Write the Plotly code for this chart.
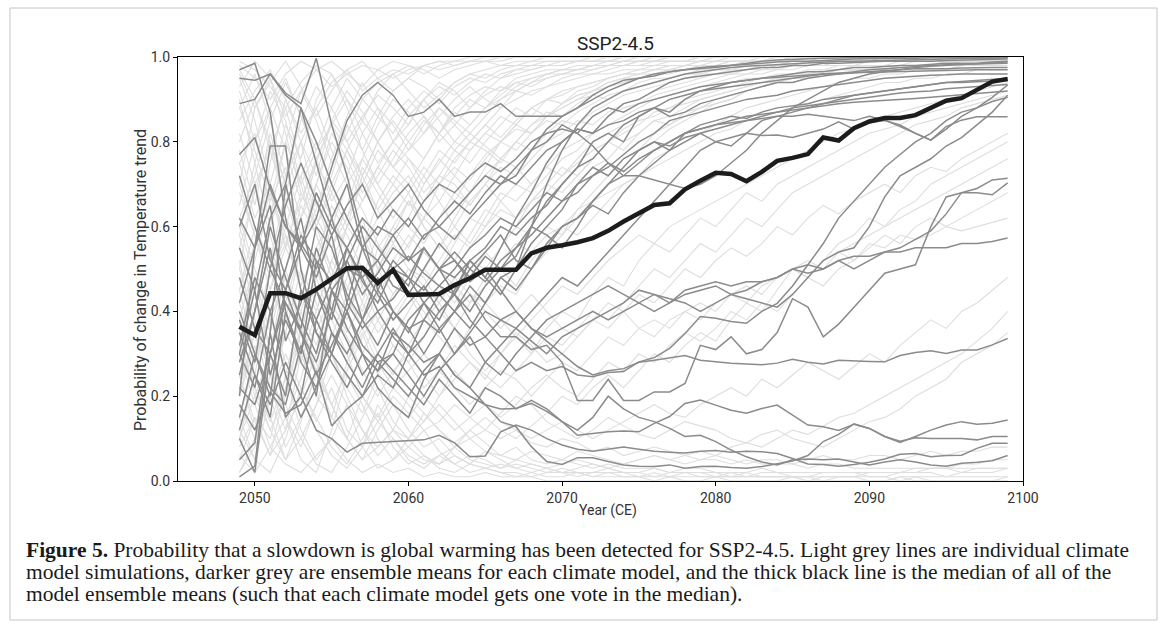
import plotly.graph_objects as go

years = list(range(2049, 2100))

median_of_means = [
    0.364, 0.344, 0.443, 0.443, 0.431, 0.452, 0.477, 0.502, 0.503, 0.467,
    0.498, 0.439, 0.440, 0.441, 0.462, 0.478, 0.498, 0.498, 0.498, 0.537,
    0.550, 0.556, 0.563, 0.573, 0.590, 0.612, 0.632, 0.651, 0.655, 0.688,
    0.708, 0.727, 0.724, 0.707, 0.729, 0.755, 0.762, 0.771, 0.810, 0.803,
    0.832, 0.848, 0.856, 0.856, 0.863, 0.879, 0.897, 0.903, 0.922, 0.942, 0.948]

# ---- ensemble means (darker grey) ----
em01 = [0.62,0.55,0.70,0.60,0.55,0.62,0.74,0.85,0.91,0.94,
        0.91,0.86,0.87,0.90,0.86,0.87,0.87,0.89,0.86,0.86,
        0.86,0.86,0.88,0.91,0.93,0.945,0.95,0.955,0.965,0.97,
        0.973,0.975,0.98,0.985,0.99,0.993,0.995,0.996,0.997,0.998,
        0.998,0.999,0.999,1.0,1.0,1.0,1.0,1.0,1.0,1.0,1.0]
em02 = [0.97,0.985,0.87,0.62,0.45,0.38,0.47,0.52,0.44,0.49,
        0.55,0.52,0.58,0.60,0.57,0.62,0.66,0.70,0.72,0.78,
        0.83,0.86,0.88,0.90,0.92,0.935,0.95,0.96,0.965,0.97,
        0.975,0.978,0.98,0.983,0.985,0.988,0.99,0.99,0.992,0.994,
        0.995,0.996,0.996,0.997,0.997,0.998,0.998,0.998,0.998,0.998,0.998]
em03 = [0.95,0.945,0.96,0.915,0.89,0.997,0.84,0.72,0.58,0.45,
        0.40,0.35,0.42,0.38,0.45,0.52,0.48,0.55,0.62,0.68,
        0.75,0.80,0.83,0.82,0.86,0.89,0.90,0.92,0.94,0.95,
        0.955,0.96,0.965,0.97,0.975,0.975,0.98,0.98,0.985,0.985,
        0.987,0.988,0.99,0.99,0.99,0.99,0.992,0.993,0.993,0.994,0.995]
em04 = [0.89,0.90,0.96,0.91,0.88,0.80,0.70,0.62,0.55,0.46,
        0.50,0.46,0.55,0.50,0.44,0.40,0.46,0.50,0.53,0.60,
        0.66,0.70,0.74,0.80,0.82,0.80,0.86,0.88,0.87,0.90,
        0.92,0.93,0.94,0.945,0.95,0.955,0.96,0.965,0.965,0.97,
        0.975,0.975,0.978,0.98,0.98,0.982,0.985,0.985,0.985,0.988,0.99]
em05 = [0.77,0.81,0.69,0.60,0.56,0.50,0.62,0.70,0.55,0.52,
        0.58,0.62,0.57,0.62,0.66,0.63,0.68,0.72,0.70,0.74,
        0.78,0.80,0.83,0.82,0.84,0.85,0.87,0.88,0.86,0.87,
        0.89,0.90,0.91,0.92,0.93,0.94,0.94,0.95,0.955,0.96,
        0.965,0.97,0.972,0.975,0.978,0.98,0.982,0.983,0.984,0.985,0.985]
em06 = [0.20,0.55,0.79,0.79,0.50,0.35,0.30,0.42,0.55,0.60,
        0.58,0.52,0.55,0.50,0.48,0.52,0.55,0.60,0.58,0.62,
        0.65,0.70,0.74,0.76,0.80,0.84,0.86,0.88,0.90,0.91,
        0.92,0.925,0.93,0.935,0.94,0.945,0.95,0.955,0.96,0.96,
        0.962,0.965,0.968,0.97,0.972,0.972,0.972,0.974,0.975,0.975,0.975]
em07 = [0.01,0.035,0.35,0.70,0.88,0.75,0.62,0.50,0.48,0.40,
        0.43,0.48,0.45,0.50,0.54,0.50,0.47,0.52,0.55,0.58,
        0.62,0.66,0.68,0.72,0.74,0.77,0.80,0.82,0.85,0.86,
        0.87,0.88,0.89,0.90,0.905,0.91,0.92,0.925,0.93,0.935,
        0.94,0.945,0.95,0.952,0.955,0.957,0.958,0.96,0.96,0.96,0.96]
em08 = [0.48,0.36,0.30,0.45,0.58,0.52,0.47,0.55,0.48,0.52,
        0.46,0.44,0.50,0.56,0.52,0.48,0.53,0.50,0.55,0.60,
        0.58,0.55,0.60,0.66,0.70,0.74,0.78,0.80,0.78,0.82,
        0.84,0.85,0.86,0.855,0.87,0.88,0.885,0.89,0.90,0.905,
        0.91,0.915,0.92,0.925,0.93,0.935,0.94,0.94,0.942,0.944,0.945]
em09 = [0.42,0.55,0.65,0.40,0.30,0.45,0.38,0.52,0.60,0.55,
        0.50,0.53,0.49,0.46,0.44,0.50,0.54,0.58,0.52,0.50,
        0.55,0.60,0.62,0.65,0.63,0.68,0.72,0.75,0.78,0.80,
        0.82,0.83,0.84,0.85,0.86,0.87,0.88,0.885,0.89,0.895,
        0.90,0.905,0.91,0.915,0.918,0.92,0.925,0.928,0.93,0.933,0.935]
em10 = [0.25,0.40,0.55,0.33,0.42,0.60,0.55,0.44,0.38,0.48,
        0.40,0.36,0.38,0.44,0.40,0.36,0.42,0.48,0.45,0.50,
        0.56,0.60,0.62,0.66,0.70,0.72,0.75,0.78,0.80,0.82,
        0.83,0.84,0.85,0.86,0.865,0.87,0.875,0.88,0.885,0.89,
        0.893,0.895,0.898,0.90,0.902,0.905,0.908,0.91,0.913,0.917,0.92]
em11 = [0.38,0.28,0.50,0.42,0.36,0.55,0.45,0.40,0.50,0.44,
        0.38,0.42,0.46,0.40,0.44,0.52,0.48,0.44,0.50,0.56,
        0.60,0.64,0.70,0.74,0.72,0.76,0.78,0.80,0.79,0.81,
        0.82,0.80,0.81,0.82,0.815,0.816,0.81,0.82,0.83,0.847,
        0.83,0.845,0.85,0.84,0.82,0.804,0.83,0.86,0.88,0.905,0.934]
em12 = [0.30,0.22,0.40,0.50,0.62,0.45,0.35,0.30,0.38,0.45,
        0.52,0.48,0.42,0.46,0.50,0.55,0.58,0.62,0.60,0.64,
        0.68,0.66,0.70,0.72,0.75,0.73,0.76,0.78,0.80,0.82,
        0.83,0.84,0.845,0.85,0.855,0.86,0.86,0.865,0.86,0.855,
        0.85,0.86,0.851,0.836,0.82,0.804,0.836,0.851,0.859,0.859,0.859]
em13 = [0.15,0.30,0.20,0.45,0.35,0.28,0.40,0.33,0.25,0.30,
        0.36,0.30,0.34,0.40,0.44,0.38,0.34,0.38,0.40,0.36,
        0.34,0.36,0.38,0.40,0.38,0.40,0.42,0.44,0.43,0.42,
        0.40,0.42,0.44,0.43,0.42,0.41,0.44,0.48,0.52,0.54,
        0.55,0.60,0.67,0.72,0.74,0.76,0.79,0.81,0.84,0.87,0.91]
em14 = [0.28,0.40,0.60,0.48,0.38,0.30,0.45,0.50,0.38,0.32,
        0.40,0.36,0.30,0.36,0.40,0.44,0.38,0.34,0.34,0.31,
        0.32,0.28,0.19,0.19,0.24,0.19,0.19,0.21,0.21,0.23,
        0.32,0.31,0.34,0.30,0.31,0.35,0.43,0.41,0.34,0.37,
        0.41,0.45,0.49,0.50,0.51,0.60,0.67,0.68,0.69,0.71,0.714]
em15 = [0.22,0.18,0.30,0.42,0.35,0.25,0.32,0.40,0.30,0.26,
        0.30,0.25,0.20,0.26,0.30,0.34,0.28,0.25,0.30,0.34,
        0.38,0.40,0.42,0.44,0.46,0.44,0.42,0.40,0.42,0.44,
        0.45,0.46,0.44,0.45,0.47,0.48,0.50,0.49,0.50,0.52,
        0.50,0.52,0.54,0.55,0.57,0.59,0.63,0.68,0.68,0.675,0.703]
em16 = [0.35,0.25,0.18,0.28,0.20,0.38,0.30,0.25,0.20,0.28,
        0.24,0.20,0.26,0.30,0.25,0.22,0.28,0.32,0.36,0.33,
        0.30,0.34,0.36,0.38,0.40,0.42,0.45,0.44,0.42,0.45,
        0.46,0.47,0.46,0.47,0.47,0.48,0.50,0.51,0.50,0.52,
        0.53,0.53,0.54,0.54,0.55,0.55,0.55,0.56,0.56,0.565,0.573]
em17 = [0.30,0.45,0.25,0.38,0.30,0.52,0.40,0.55,0.47,0.42,
        0.50,0.48,0.55,0.50,0.52,0.47,0.50,0.45,0.40,0.36,
        0.33,0.30,0.27,0.25,0.26,0.265,0.28,0.285,0.29,0.296,
        0.285,0.281,0.278,0.276,0.274,0.278,0.287,0.28,0.276,0.285,
        0.283,0.282,0.281,0.296,0.303,0.307,0.301,0.309,0.309,0.321,0.336]
em18 = [0.18,0.12,0.21,0.16,0.18,0.26,0.13,0.17,0.20,0.25,
        0.22,0.30,0.25,0.27,0.22,0.20,0.18,0.17,0.171,0.183,
        0.164,0.14,0.108,0.112,0.116,0.118,0.116,0.136,0.152,0.183,
        0.191,0.179,0.167,0.16,0.171,0.179,0.155,0.132,0.128,0.119,
        0.134,0.124,0.105,0.091,0.105,0.12,0.132,0.14,0.134,0.136,0.144]
em19 = [0.10,0.02,0.30,0.20,0.45,0.35,0.28,0.22,0.30,0.26,
        0.35,0.32,0.28,0.30,0.25,0.22,0.18,0.14,0.128,0.081,
        0.046,0.039,0.055,0.055,0.046,0.038,0.035,0.034,0.038,0.03,
        0.034,0.035,0.032,0.03,0.034,0.04,0.047,0.06,0.093,0.11,
        0.135,0.124,0.105,0.094,0.102,0.10,0.10,0.10,0.097,0.105,0.105]
em20 = [0.05,0.09,0.35,0.15,0.20,0.12,0.10,0.068,0.089,0.091,
        0.093,0.095,0.097,0.108,0.09,0.057,0.059,0.116,0.132,0.12,
        0.10,0.085,0.075,0.07,0.075,0.08,0.075,0.07,0.068,0.066,
        0.07,0.072,0.068,0.07,0.069,0.065,0.053,0.04,0.039,0.035,
        0.039,0.044,0.052,0.063,0.065,0.057,0.06,0.061,0.077,0.089,0.089]
em21 = [0.12,0.25,0.15,0.40,0.28,0.22,0.35,0.28,0.22,0.30,
        0.26,0.22,0.18,0.24,0.20,0.16,0.22,0.20,0.17,0.19,
        0.17,0.14,0.12,0.15,0.20,0.17,0.15,0.14,0.124,0.105,
        0.108,0.093,0.073,0.057,0.045,0.038,0.05,0.052,0.05,0.052,
        0.045,0.038,0.045,0.05,0.045,0.038,0.035,0.042,0.044,0.048,0.06]
em22 = [0.40,0.30,0.22,0.18,0.32,0.20,0.45,0.36,0.30,0.22,
        0.18,0.15,0.24,0.30,0.36,0.32,0.34,0.30,0.26,0.28,
        0.26,0.27,0.25,0.246,0.256,0.258,0.281,0.291,0.313,0.348,
        0.388,0.384,0.376,0.372,0.40,0.419,0.46,0.51,0.56,0.62,
        0.66,0.70,0.74,0.77,0.80,0.82,0.85,0.87,0.88,0.895,0.905]
em23 = [0.55,0.45,0.62,0.70,0.55,0.48,0.58,0.42,0.36,0.40,
        0.34,0.30,0.38,0.35,0.40,0.46,0.42,0.48,0.50,0.60,
        0.70,0.78,0.84,0.88,0.90,0.92,0.93,0.94,0.95,0.96,
        0.965,0.97,0.975,0.978,0.98,0.982,0.985,0.987,0.988,0.99,
        0.99,0.991,0.992,0.993,0.994,0.995,0.996,0.996,0.997,0.997,0.998]
em24 = [0.32,0.48,0.40,0.25,0.15,0.22,0.30,0.40,0.32,0.28,
        0.30,0.38,0.42,0.36,0.30,0.35,0.40,0.38,0.36,0.40,
        0.44,0.48,0.46,0.50,0.54,0.58,0.62,0.66,0.70,0.74,
        0.78,0.80,0.79,0.82,0.85,0.86,0.87,0.88,0.89,0.90,
        0.91,0.915,0.92,0.925,0.93,0.935,0.94,0.942,0.945,0.948,0.95]
em25 = [0.72,0.60,0.50,0.65,0.75,0.66,0.58,0.65,0.70,0.62,
        0.66,0.70,0.64,0.60,0.64,0.68,0.72,0.70,0.74,0.78,
        0.80,0.84,0.82,0.86,0.88,0.87,0.89,0.90,0.91,0.92,
        0.93,0.935,0.94,0.945,0.95,0.952,0.955,0.958,0.96,0.962,
        0.963,0.964,0.965,0.966,0.967,0.968,0.969,0.97,0.97,0.97,0.97]
em26 = [0.60,0.70,0.52,0.45,0.55,0.68,0.60,0.55,0.62,0.58,
        0.64,0.60,0.66,0.70,0.68,0.72,0.75,0.73,0.76,0.80,
        0.82,0.83,0.82,0.79,0.75,0.72,0.72,0.71,0.70,0.69,
        0.70,0.72,0.75,0.78,0.82,0.85,0.88,0.90,0.92,0.94,
        0.95,0.96,0.965,0.97,0.975,0.978,0.98,0.982,0.984,0.986,0.988]

# ---- individual simulations (light grey) ----
sim01 = [0.98,0.95,0.90,0.96,0.99,0.97,0.93,0.96,0.98,0.97,
         0.95,0.97,0.98,0.99,0.98,0.99,0.99,1.0,1.0,1.0,
         1.0,1.0,1.0,1.0,1.0,1.0,1.0,1.0,1.0,1.0,
         1.0,1.0,1.0,1.0,1.0,1.0,1.0,1.0,1.0,1.0,
         1.0,1.0,1.0,1.0,1.0,1.0,1.0,1.0,1.0,1.0,1.0]
sim02 = [0.85,0.92,0.97,0.90,0.82,0.88,0.94,0.97,0.92,0.95,
         0.97,0.96,0.98,0.97,0.98,0.99,0.99,0.99,1.0,1.0,
         1.0,1.0,1.0,1.0,1.0,1.0,1.0,1.0,1.0,1.0,
         1.0,1.0,1.0,1.0,1.0,1.0,1.0,1.0,1.0,1.0,
         1.0,1.0,1.0,1.0,1.0,1.0,1.0,1.0,1.0,1.0,1.0]
sim03 = [0.65,0.80,0.92,0.85,0.70,0.78,0.88,0.95,0.90,0.86,
         0.92,0.95,0.93,0.90,0.94,0.96,0.97,0.98,0.98,0.99,
         0.99,0.99,0.99,1.0,1.0,1.0,1.0,1.0,1.0,1.0,
         1.0,1.0,1.0,1.0,1.0,1.0,1.0,1.0,1.0,1.0,
         1.0,1.0,1.0,1.0,1.0,1.0,1.0,1.0,1.0,1.0,1.0]
sim04 = [0.55,0.40,0.62,0.80,0.92,0.85,0.75,0.82,0.90,0.94,
         0.96,0.92,0.88,0.91,0.94,0.96,0.95,0.97,0.98,0.98,
         0.99,0.99,0.99,0.99,1.0,1.0,1.0,1.0,1.0,1.0,
         1.0,1.0,1.0,1.0,1.0,1.0,1.0,1.0,1.0,1.0,
         1.0,1.0,1.0,1.0,1.0,1.0,1.0,1.0,1.0,1.0,1.0]
sim05 = [0.90,0.75,0.60,0.72,0.85,0.93,0.88,0.80,0.86,0.91,
         0.88,0.84,0.90,0.93,0.91,0.94,0.96,0.95,0.97,0.98,
         0.98,0.99,0.99,0.99,0.99,1.0,1.0,1.0,1.0,1.0,
         1.0,1.0,1.0,1.0,1.0,1.0,1.0,1.0,1.0,1.0,
         1.0,1.0,1.0,1.0,1.0,1.0,1.0,1.0,1.0,1.0,1.0]
sim06 = [0.30,0.55,0.75,0.90,0.80,0.65,0.72,0.84,0.78,0.70,
         0.76,0.82,0.86,0.80,0.84,0.88,0.91,0.93,0.92,0.94,
         0.95,0.96,0.97,0.97,0.98,0.98,0.99,0.99,0.99,0.99,
         1.0,1.0,1.0,1.0,1.0,1.0,1.0,1.0,1.0,1.0,
         1.0,1.0,1.0,1.0,1.0,1.0,1.0,1.0,1.0,1.0,1.0]
sim07 = [0.70,0.88,0.95,0.82,0.68,0.60,0.70,0.78,0.72,0.80,
         0.85,0.80,0.76,0.82,0.87,0.84,0.88,0.90,0.92,0.91,
         0.93,0.94,0.95,0.96,0.96,0.97,0.97,0.98,0.98,0.98,
         0.99,0.99,0.99,0.99,0.99,1.0,1.0,1.0,1.0,1.0,
         1.0,1.0,1.0,1.0,1.0,1.0,1.0,1.0,1.0,1.0,1.0]
sim08 = [0.45,0.60,0.52,0.68,0.80,0.72,0.85,0.92,0.87,0.80,
         0.74,0.78,0.84,0.88,0.85,0.82,0.86,0.90,0.93,0.95,
         0.96,0.96,0.97,0.98,0.98,0.99,0.99,0.99,1.0,1.0,
         1.0,1.0,1.0,1.0,1.0,1.0,1.0,1.0,1.0,1.0,
         1.0,1.0,1.0,1.0,1.0,1.0,1.0,1.0,1.0,1.0,1.0]
sim09 = [0.95,0.85,0.70,0.55,0.62,0.75,0.68,0.60,0.66,0.74,
         0.80,0.76,0.70,0.75,0.80,0.78,0.82,0.86,0.84,0.88,
         0.90,0.92,0.93,0.94,0.95,0.96,0.96,0.97,0.97,0.98,
         0.98,0.98,0.99,0.99,0.99,0.99,1.0,1.0,1.0,1.0,
         1.0,1.0,1.0,1.0,1.0,1.0,1.0,1.0,1.0,1.0,1.0]
sim10 = [0.20,0.35,0.50,0.62,0.55,0.70,0.82,0.76,0.68,0.74,
         0.70,0.65,0.72,0.78,0.75,0.80,0.84,0.81,0.85,0.88,
         0.86,0.89,0.91,0.92,0.94,0.95,0.95,0.96,0.97,0.97,
         0.98,0.98,0.98,0.99,0.99,0.99,0.99,0.99,1.0,1.0,
         1.0,1.0,1.0,1.0,1.0,1.0,1.0,1.0,1.0,1.0,1.0]
sim11 = [0.78,0.65,0.82,0.70,0.58,0.66,0.55,0.62,0.74,0.68,
         0.62,0.68,0.74,0.70,0.66,0.72,0.77,0.80,0.78,0.82,
         0.85,0.84,0.87,0.89,0.91,0.92,0.93,0.94,0.95,0.96,
         0.96,0.97,0.97,0.98,0.98,0.98,0.99,0.99,0.99,0.99,
         0.99,1.0,1.0,1.0,1.0,1.0,1.0,1.0,1.0,1.0,1.0]
sim12 = [0.60,0.48,0.35,0.50,0.65,0.58,0.50,0.45,0.55,0.62,
         0.68,0.72,0.66,0.70,0.76,0.80,0.78,0.75,0.80,0.84,
         0.87,0.86,0.89,0.91,0.90,0.92,0.94,0.95,0.95,0.96,
         0.97,0.97,0.97,0.98,0.98,0.98,0.99,0.99,0.99,0.99,
         0.99,0.99,1.0,1.0,1.0,1.0,1.0,1.0,1.0,1.0,1.0]
sim13 = [0.10,0.25,0.45,0.38,0.55,0.70,0.62,0.55,0.48,0.58,
         0.64,0.60,0.56,0.62,0.68,0.65,0.70,0.74,0.72,0.76,
         0.80,0.82,0.85,0.84,0.87,0.89,0.90,0.92,0.93,0.94,
         0.95,0.96,0.96,0.97,0.97,0.98,0.98,0.98,0.98,0.99,
         0.99,0.99,0.99,0.99,0.99,0.99,1.0,1.0,1.0,1.0,1.0]
sim14 = [0.88,0.96,0.85,0.72,0.80,0.88,0.78,0.70,0.76,0.84,
         0.90,0.87,0.82,0.86,0.90,0.93,0.90,0.88,0.92,0.94,
         0.96,0.97,0.97,0.98,0.98,0.99,0.99,0.99,1.0,1.0,
         1.0,1.0,1.0,1.0,1.0,1.0,1.0,1.0,1.0,1.0,
         1.0,1.0,1.0,1.0,1.0,1.0,1.0,1.0,1.0,1.0,1.0]
sim15 = [0.35,0.20,0.30,0.45,0.40,0.52,0.65,0.58,0.50,0.45,
         0.52,0.58,0.54,0.50,0.56,0.62,0.60,0.66,0.70,0.68,
         0.72,0.76,0.78,0.82,0.84,0.86,0.88,0.90,0.91,0.92,
         0.93,0.94,0.95,0.96,0.96,0.97,0.97,0.98,0.98,0.98,
         0.98,0.99,0.99,0.99,0.99,0.99,0.99,1.0,1.0,1.0,1.0]
sim16 = [0.50,0.70,0.58,0.45,0.35,0.48,0.60,0.70,0.64,0.56,
         0.50,0.56,0.62,0.58,0.52,0.58,0.64,0.62,0.60,0.66,
         0.70,0.68,0.72,0.76,0.80,0.82,0.84,0.87,0.88,0.90,
         0.91,0.92,0.93,0.94,0.95,0.95,0.96,0.96,0.97,0.97,
         0.98,0.98,0.98,0.98,0.99,0.99,0.99,0.99,0.99,0.99,0.99]
sim17 = [0.15,0.05,0.20,0.35,0.28,0.40,0.52,0.46,0.40,0.50,
         0.56,0.50,0.46,0.52,0.58,0.55,0.60,0.64,0.62,0.66,
         0.68,0.72,0.75,0.78,0.80,0.83,0.85,0.86,0.88,0.89,
         0.90,0.91,0.92,0.93,0.94,0.95,0.95,0.96,0.96,0.97,
         0.97,0.97,0.98,0.98,0.98,0.98,0.99,0.99,0.99,0.99,0.99]
sim18 = [0.75,0.82,0.68,0.55,0.48,0.40,0.52,0.60,0.55,0.66,
         0.72,0.68,0.60,0.55,0.62,0.68,0.72,0.76,0.74,0.70,
         0.74,0.78,0.80,0.82,0.86,0.88,0.89,0.91,0.92,0.93,
         0.94,0.95,0.96,0.96,0.97,0.97,0.98,0.98,0.98,0.99,
         0.99,0.99,0.99,0.99,1.0,1.0,1.0,1.0,1.0,1.0,1.0]
sim19 = [0.92,0.80,0.88,0.95,0.86,0.78,0.84,0.90,0.82,0.75,
         0.80,0.86,0.90,0.85,0.80,0.84,0.88,0.92,0.94,0.93,
         0.95,0.96,0.96,0.97,0.98,0.98,0.98,0.99,0.99,0.99,
         0.99,1.0,1.0,1.0,1.0,1.0,1.0,1.0,1.0,1.0,
         1.0,1.0,1.0,1.0,1.0,1.0,1.0,1.0,1.0,1.0,1.0]
sim20 = [0.40,0.30,0.45,0.55,0.68,0.60,0.50,0.40,0.46,0.38,
         0.44,0.50,0.48,0.42,0.48,0.52,0.50,0.55,0.60,0.58,
         0.62,0.66,0.70,0.74,0.76,0.80,0.82,0.85,0.86,0.88,
         0.90,0.91,0.92,0.93,0.94,0.94,0.95,0.96,0.96,0.97,
         0.97,0.97,0.98,0.98,0.98,0.98,0.99,0.99,0.99,0.99,0.99]
sim21 = [0.68,0.58,0.45,0.60,0.72,0.80,0.70,0.62,0.70,0.78,
         0.74,0.70,0.76,0.82,0.78,0.75,0.80,0.84,0.88,0.86,
         0.90,0.91,0.93,0.94,0.95,0.96,0.97,0.97,0.98,0.98,
         0.99,0.99,0.99,0.99,1.0,1.0,1.0,1.0,1.0,1.0,
         1.0,1.0,1.0,1.0,1.0,1.0,1.0,1.0,1.0,1.0,1.0]
sim22 = [0.05,0.15,0.10,0.25,0.40,0.32,0.45,0.38,0.50,0.44,
         0.38,0.44,0.50,0.46,0.42,0.48,0.54,0.50,0.46,0.52,
         0.56,0.60,0.58,0.62,0.66,0.70,0.72,0.76,0.78,0.80,
         0.82,0.84,0.86,0.88,0.89,0.90,0.91,0.92,0.93,0.94,
         0.95,0.95,0.96,0.96,0.97,0.97,0.97,0.98,0.98,0.98,0.98]
sim23 = [0.82,0.70,0.78,0.88,0.75,0.62,0.55,0.65,0.76,0.70,
         0.64,0.60,0.66,0.72,0.70,0.65,0.70,0.76,0.80,0.78,
         0.82,0.85,0.84,0.87,0.89,0.91,0.92,0.93,0.94,0.95,
         0.96,0.96,0.97,0.97,0.98,0.98,0.98,0.99,0.99,0.99,
         0.99,0.99,1.0,1.0,1.0,1.0,1.0,1.0,1.0,1.0,1.0]
sim24 = [0.58,0.75,0.88,0.78,0.66,0.75,0.85,0.80,0.72,0.80,
         0.86,0.90,0.86,0.82,0.88,0.91,0.93,0.92,0.95,0.96,
         0.97,0.97,0.98,0.98,0.99,0.99,0.99,1.0,1.0,1.0,
         1.0,1.0,1.0,1.0,1.0,1.0,1.0,1.0,1.0,1.0,
         1.0,1.0,1.0,1.0,1.0,1.0,1.0,1.0,1.0,1.0,1.0]
sim25 = [0.25,0.12,0.28,0.20,0.35,0.50,0.42,0.35,0.42,0.55,
         0.60,0.55,0.62,0.66,0.60,0.56,0.62,0.68,0.66,0.70,
         0.74,0.72,0.76,0.80,0.82,0.84,0.86,0.88,0.90,0.91,
         0.92,0.93,0.94,0.95,0.95,0.96,0.96,0.97,0.97,0.98,
         0.98,0.98,0.98,0.99,0.99,0.99,0.99,0.99,0.99,0.99,0.99]
sim26 = [0.97,0.90,0.80,0.66,0.72,0.60,0.68,0.78,0.85,0.80,
         0.74,0.80,0.85,0.82,0.86,0.90,0.88,0.91,0.94,0.95,
         0.96,0.97,0.97,0.98,0.98,0.98,0.99,0.99,0.99,0.99,
         1.0,1.0,1.0,1.0,1.0,1.0,1.0,1.0,1.0,1.0,
         1.0,1.0,1.0,1.0,1.0,1.0,1.0,1.0,1.0,1.0,1.0]
sim27 = [0.02,0.10,0.25,0.15,0.08,0.18,0.30,0.20,0.12,0.06,
         0.10,0.05,0.03,0.06,0.04,0.02,0.03,0.02,0.01,0.02,
         0.01,0.01,0.02,0.01,0.01,0.01,0.01,0.0,0.01,0.0,
         0.0,0.01,0.0,0.0,0.0,0.0,0.01,0.0,0.0,0.0,
         0.0,0.0,0.0,0.01,0.0,0.0,0.0,0.0,0.0,0.0,0.01]
sim28 = [0.12,0.05,0.02,0.10,0.22,0.15,0.08,0.04,0.10,0.16,
         0.08,0.04,0.06,0.03,0.02,0.04,0.03,0.02,0.02,0.01,
         0.02,0.02,0.01,0.02,0.02,0.01,0.01,0.02,0.01,0.01,
         0.01,0.01,0.02,0.01,0.01,0.01,0.01,0.01,0.0,0.01,
         0.01,0.01,0.01,0.0,0.01,0.01,0.01,0.02,0.02,0.02,0.03]
sim29 = [0.30,0.18,0.08,0.15,0.05,0.02,0.12,0.25,0.18,0.10,
         0.05,0.08,0.12,0.07,0.04,0.06,0.05,0.03,0.04,0.03,
         0.02,0.03,0.02,0.02,0.03,0.02,0.02,0.01,0.02,0.02,
         0.01,0.01,0.01,0.02,0.01,0.01,0.01,0.01,0.01,0.01,
         0.01,0.02,0.02,0.02,0.03,0.03,0.03,0.04,0.04,0.05,0.05]
sim30 = [0.45,0.30,0.20,0.08,0.15,0.25,0.18,0.10,0.05,0.12,
         0.18,0.12,0.08,0.10,0.06,0.04,0.07,0.05,0.03,0.04,
         0.03,0.02,0.03,0.04,0.03,0.02,0.02,0.03,0.02,0.02,
         0.02,0.02,0.01,0.01,0.02,0.02,0.01,0.01,0.02,0.02,
         0.02,0.02,0.02,0.02,0.02,0.03,0.03,0.03,0.03,0.03,0.03]
sim31 = [0.06,0.02,0.08,0.04,0.02,0.06,0.10,0.05,0.02,0.04,
         0.02,0.03,0.01,0.02,0.01,0.01,0.02,0.01,0.01,0.01,
         0.0,0.0,0.0,0.0,0.0,0.0,0.0,0.0,0.0,0.0,
         0.0,0.0,0.0,0.0,0.0,0.0,0.0,0.0,0.0,0.0,
         0.0,0.0,0.0,0.0,0.0,0.0,0.0,0.0,0.0,0.0,0.0]
sim32 = [0.20,0.32,0.15,0.05,0.10,0.04,0.02,0.08,0.15,0.22,
         0.14,0.10,0.16,0.12,0.08,0.10,0.07,0.06,0.08,0.05,
         0.04,0.05,0.04,0.03,0.04,0.03,0.03,0.03,0.02,0.03,
         0.03,0.02,0.02,0.02,0.03,0.02,0.02,0.02,0.02,0.02,
         0.02,0.01,0.01,0.02,0.02,0.02,0.01,0.01,0.01,0.01,0.01]
sim33 = [0.15,0.28,0.40,0.25,0.12,0.05,0.10,0.18,0.08,0.03,
         0.05,0.10,0.06,0.04,0.08,0.12,0.09,0.06,0.05,0.07,
         0.06,0.05,0.07,0.06,0.05,0.04,0.05,0.06,0.05,0.04,
         0.05,0.06,0.05,0.04,0.05,0.05,0.04,0.05,0.06,0.05,
         0.05,0.06,0.06,0.05,0.06,0.07,0.06,0.07,0.07,0.08,0.08]
sim34 = [0.08,0.15,0.06,0.22,0.35,0.25,0.15,0.10,0.20,0.14,
         0.20,0.16,0.12,0.14,0.18,0.15,0.12,0.10,0.12,0.09,
         0.08,0.10,0.09,0.07,0.08,0.06,0.07,0.08,0.07,0.06,
         0.05,0.05,0.04,0.05,0.04,0.04,0.04,0.03,0.04,0.04,
         0.03,0.03,0.03,0.03,0.03,0.03,0.03,0.02,0.03,0.03,0.03]
sim35 = [0.50,0.38,0.25,0.35,0.50,0.42,0.30,0.22,0.30,0.38,
         0.32,0.28,0.34,0.40,0.36,0.30,0.26,0.30,0.35,0.32,
         0.28,0.30,0.34,0.38,0.36,0.40,0.44,0.42,0.46,0.50,
         0.48,0.52,0.55,0.53,0.56,0.60,0.58,0.62,0.65,0.63,
         0.66,0.68,0.70,0.68,0.72,0.74,0.73,0.76,0.78,0.80,0.82]
sim36 = [0.28,0.40,0.55,0.45,0.32,0.25,0.35,0.30,0.20,0.15,
         0.22,0.18,0.14,0.20,0.26,0.22,0.18,0.15,0.18,0.22,
         0.25,0.22,0.20,0.24,0.28,0.26,0.30,0.28,0.32,0.35,
         0.33,0.36,0.40,0.38,0.42,0.40,0.44,0.48,0.46,0.50,
         0.52,0.55,0.58,0.56,0.60,0.62,0.60,0.62,0.64,0.66,0.68]
sim37 = [0.38,0.22,0.12,0.20,0.30,0.20,0.15,0.28,0.35,0.25,
         0.18,0.15,0.20,0.16,0.12,0.15,0.18,0.14,0.12,0.10,
         0.12,0.14,0.12,0.10,0.12,0.14,0.16,0.18,0.16,0.15,
         0.18,0.20,0.22,0.20,0.24,0.22,0.25,0.28,0.26,0.24,
         0.27,0.30,0.28,0.32,0.35,0.38,0.36,0.40,0.42,0.45,0.48]
sim38 = [0.62,0.50,0.40,0.28,0.20,0.30,0.40,0.34,0.26,0.20,
         0.26,0.30,0.25,0.20,0.24,0.28,0.25,0.22,0.26,0.30,
         0.34,0.32,0.36,0.40,0.38,0.42,0.46,0.50,0.48,0.52,
         0.56,0.54,0.58,0.62,0.60,0.64,0.68,0.70,0.72,0.74,
         0.76,0.78,0.80,0.82,0.84,0.85,0.86,0.88,0.89,0.90,0.91]
sim39 = [0.18,0.10,0.20,0.30,0.22,0.14,0.22,0.12,0.08,0.18,
         0.12,0.10,0.14,0.18,0.14,0.10,0.12,0.16,0.20,0.18,
         0.14,0.12,0.10,0.12,0.15,0.13,0.11,0.10,0.12,0.14,
         0.13,0.12,0.10,0.09,0.11,0.12,0.10,0.09,0.08,0.10,
         0.12,0.14,0.15,0.17,0.20,0.22,0.24,0.28,0.30,0.32,0.35]
sim40 = [0.72,0.60,0.48,0.58,0.45,0.35,0.45,0.52,0.42,0.35,
         0.40,0.45,0.40,0.35,0.40,0.44,0.42,0.38,0.34,0.38,
         0.42,0.46,0.44,0.48,0.52,0.55,0.58,0.56,0.60,0.62,
         0.64,0.66,0.68,0.70,0.72,0.74,0.76,0.78,0.80,0.82,
         0.83,0.85,0.86,0.87,0.88,0.89,0.90,0.91,0.92,0.93,0.94]
sim41 = [0.35,0.48,0.30,0.18,0.10,0.18,0.25,0.18,0.12,0.08,
         0.12,0.20,0.16,0.12,0.09,0.12,0.15,0.12,0.10,0.13,
         0.16,0.20,0.18,0.22,0.25,0.22,0.26,0.30,0.28,0.32,
         0.35,0.33,0.38,0.42,0.40,0.45,0.50,0.48,0.52,0.56,
         0.58,0.62,0.60,0.64,0.66,0.70,0.72,0.74,0.76,0.78,0.80]
sim42 = [0.55,0.68,0.80,0.70,0.58,0.50,0.40,0.48,0.58,0.50,
         0.44,0.48,0.54,0.50,0.46,0.42,0.46,0.52,0.56,0.54,
         0.58,0.60,0.64,0.66,0.68,0.70,0.72,0.74,0.76,0.78,
         0.80,0.82,0.83,0.85,0.86,0.87,0.88,0.89,0.90,0.91,
         0.92,0.93,0.94,0.94,0.95,0.95,0.96,0.96,0.97,0.97,0.97]
sim43 = [0.99,0.97,0.93,0.88,0.94,0.98,0.96,0.90,0.85,0.92,
         0.96,0.98,0.97,0.95,0.97,0.98,0.99,0.98,0.99,0.99,
         1.0,1.0,1.0,1.0,1.0,1.0,1.0,1.0,1.0,1.0,
         1.0,1.0,1.0,1.0,1.0,1.0,1.0,1.0,1.0,1.0,
         1.0,1.0,1.0,1.0,1.0,1.0,1.0,1.0,1.0,1.0,1.0]
sim44 = [0.75,0.62,0.70,0.84,0.76,0.90,0.96,0.88,0.78,0.86,
         0.82,0.88,0.92,0.89,0.93,0.95,0.94,0.96,0.97,0.97,
         0.98,0.98,0.99,0.99,0.99,0.99,1.0,1.0,1.0,1.0,
         1.0,1.0,1.0,1.0,1.0,1.0,1.0,1.0,1.0,1.0,
         1.0,1.0,1.0,1.0,1.0,1.0,1.0,1.0,1.0,1.0,1.0]
sim45 = [0.02,0.08,0.30,0.50,0.38,0.25,0.40,0.55,0.62,0.50,
         0.58,0.66,0.62,0.70,0.74,0.71,0.76,0.80,0.83,0.82,
         0.86,0.88,0.90,0.91,0.93,0.94,0.95,0.96,0.96,0.97,
         0.97,0.98,0.98,0.98,0.99,0.99,0.99,0.99,1.0,1.0,
         1.0,1.0,1.0,1.0,1.0,1.0,1.0,1.0,1.0,1.0,1.0]
sim46 = [0.52,0.35,0.22,0.12,0.30,0.45,0.35,0.28,0.38,0.30,
         0.25,0.32,0.38,0.34,0.30,0.36,0.42,0.46,0.44,0.50,
         0.54,0.58,0.62,0.66,0.70,0.74,0.78,0.80,0.83,0.85,
         0.87,0.89,0.90,0.92,0.93,0.94,0.95,0.95,0.96,0.96,
         0.97,0.97,0.97,0.98,0.98,0.98,0.98,0.99,0.99,0.99,0.99]
sim47 = [0.88,0.78,0.66,0.74,0.62,0.70,0.80,0.74,0.66,0.72,
         0.78,0.74,0.68,0.72,0.78,0.82,0.79,0.76,0.80,0.84,
         0.86,0.88,0.90,0.92,0.93,0.94,0.95,0.96,0.97,0.97,
         0.98,0.98,0.98,0.99,0.99,0.99,0.99,1.0,1.0,1.0,
         1.0,1.0,1.0,1.0,1.0,1.0,1.0,1.0,1.0,1.0,1.0]
sim48 = [0.62,0.72,0.85,0.94,0.86,0.76,0.66,0.72,0.82,0.88,
         0.84,0.78,0.82,0.88,0.84,0.80,0.84,0.88,0.90,0.92,
         0.93,0.95,0.96,0.96,0.97,0.98,0.98,0.98,0.99,0.99,
         0.99,0.99,1.0,1.0,1.0,1.0,1.0,1.0,1.0,1.0,
         1.0,1.0,1.0,1.0,1.0,1.0,1.0,1.0,1.0,1.0,1.0]
sim49 = [0.45,0.56,0.68,0.58,0.46,0.55,0.62,0.54,0.46,0.52,
         0.60,0.66,0.60,0.55,0.60,0.66,0.70,0.66,0.62,0.66,
         0.70,0.74,0.72,0.76,0.80,0.78,0.82,0.85,0.84,0.87,
         0.88,0.90,0.91,0.92,0.93,0.94,0.95,0.95,0.96,0.96,
         0.97,0.97,0.97,0.98,0.98,0.98,0.98,0.99,0.99,0.99,0.99]
sim50 = [0.22,0.35,0.26,0.15,0.24,0.38,0.30,0.22,0.16,0.25,
         0.32,0.28,0.22,0.26,0.32,0.28,0.24,0.30,0.34,0.30,
         0.36,0.40,0.38,0.44,0.48,0.46,0.52,0.56,0.54,0.58,
         0.62,0.60,0.64,0.68,0.66,0.70,0.72,0.74,0.76,0.78,
         0.80,0.82,0.83,0.84,0.86,0.87,0.88,0.89,0.90,0.91,0.92]
sim51 = [0.93,0.99,0.95,0.86,0.92,0.97,0.99,0.96,0.93,0.97,
         0.99,0.98,0.96,0.98,0.99,0.99,1.0,1.0,1.0,1.0,
         1.0,1.0,1.0,1.0,1.0,1.0,1.0,1.0,1.0,1.0,
         1.0,1.0,1.0,1.0,1.0,1.0,1.0,1.0,1.0,1.0,
         1.0,1.0,1.0,1.0,1.0,1.0,1.0,1.0,1.0,1.0,1.0]
sim52 = [0.10,0.20,0.12,0.05,0.14,0.26,0.18,0.10,0.05,0.08,
         0.12,0.08,0.05,0.04,0.06,0.04,0.03,0.04,0.03,0.02,
         0.03,0.02,0.02,0.01,0.02,0.02,0.01,0.01,0.01,0.02,
         0.02,0.01,0.01,0.01,0.01,0.01,0.01,0.0,0.01,0.01,
         0.01,0.0,0.0,0.01,0.01,0.0,0.0,0.0,0.0,0.0,0.0]
sim53 = [0.38,0.52,0.66,0.80,0.70,0.58,0.48,0.60,0.72,0.64,
         0.56,0.62,0.70,0.76,0.72,0.68,0.74,0.80,0.84,0.82,
         0.86,0.89,0.91,0.92,0.94,0.95,0.96,0.96,0.97,0.98,
         0.98,0.98,0.99,0.99,0.99,0.99,1.0,1.0,1.0,1.0,
         1.0,1.0,1.0,1.0,1.0,1.0,1.0,1.0,1.0,1.0,1.0]
sim54 = [0.58,0.44,0.32,0.42,0.55,0.48,0.38,0.30,0.36,0.44,
         0.50,0.44,0.38,0.42,0.48,0.44,0.40,0.36,0.40,0.44,
         0.40,0.36,0.34,0.38,0.42,0.40,0.36,0.34,0.38,0.40,
         0.42,0.40,0.44,0.46,0.44,0.48,0.50,0.52,0.50,0.54,
         0.56,0.58,0.60,0.62,0.64,0.66,0.68,0.70,0.72,0.74,0.76]
sim55 = [0.80,0.90,0.78,0.66,0.56,0.64,0.76,0.86,0.94,0.88,
         0.80,0.84,0.90,0.94,0.92,0.88,0.92,0.95,0.96,0.97,
         0.98,0.98,0.99,0.99,0.99,1.0,1.0,1.0,1.0,1.0,
         1.0,1.0,1.0,1.0,1.0,1.0,1.0,1.0,1.0,1.0,
         1.0,1.0,1.0,1.0,1.0,1.0,1.0,1.0,1.0,1.0,1.0]
sim56 = [0.32,0.22,0.14,0.24,0.36,0.28,0.18,0.26,0.34,0.40,
         0.34,0.40,0.46,0.42,0.36,0.42,0.48,0.44,0.50,0.56,
         0.60,0.58,0.64,0.68,0.72,0.76,0.78,0.82,0.84,0.86,
         0.88,0.89,0.90,0.92,0.93,0.94,0.94,0.95,0.96,0.96,
         0.97,0.97,0.98,0.98,0.98,0.98,0.99,0.99,0.99,0.99,0.99]
sim57 = [0.25,0.14,0.06,0.12,0.20,0.12,0.06,0.03,0.08,0.14,
         0.10,0.06,0.04,0.06,0.08,0.05,0.04,0.03,0.05,0.04,
         0.03,0.04,0.05,0.04,0.03,0.04,0.05,0.06,0.05,0.06,
         0.07,0.06,0.08,0.09,0.08,0.10,0.12,0.11,0.13,0.15,
         0.16,0.18,0.20,0.22,0.24,0.26,0.28,0.30,0.33,0.36,0.40]
sim58 = [0.70,0.58,0.48,0.56,0.66,0.76,0.84,0.78,0.70,0.64,
         0.70,0.76,0.72,0.66,0.72,0.78,0.82,0.80,0.84,0.88,
         0.90,0.89,0.92,0.93,0.95,0.96,0.96,0.97,0.98,0.98,
         0.98,0.99,0.99,0.99,0.99,1.0,1.0,1.0,1.0,1.0,
         1.0,1.0,1.0,1.0,1.0,1.0,1.0,1.0,1.0,1.0,1.0]
sim59 = [0.42,0.30,0.38,0.48,0.36,0.26,0.34,0.44,0.36,0.28,
         0.22,0.26,0.30,0.26,0.22,0.18,0.22,0.26,0.24,0.20,
         0.24,0.28,0.26,0.30,0.34,0.32,0.36,0.38,0.36,0.40,
         0.38,0.42,0.44,0.42,0.46,0.48,0.50,0.48,0.52,0.54,
         0.52,0.56,0.55,0.58,0.57,0.58,0.60,0.59,0.60,0.61,0.62]
sim60 = [0.96,0.88,0.94,0.99,0.93,0.86,0.92,0.97,0.99,0.95,
         0.92,0.95,0.98,0.99,0.99,1.0,1.0,1.0,1.0,1.0,
         1.0,1.0,1.0,1.0,1.0,1.0,1.0,1.0,1.0,1.0,
         1.0,1.0,1.0,1.0,1.0,1.0,1.0,1.0,1.0,1.0,
         1.0,1.0,1.0,1.0,1.0,1.0,1.0,1.0,1.0,1.0,1.0]

simulations = [sim01, sim02, sim03, sim04, sim05, sim06, sim07, sim08, sim09, sim10,
               sim11, sim12, sim13, sim14, sim15, sim16, sim17, sim18, sim19, sim20,
               sim21, sim22, sim23, sim24, sim25, sim26, sim27, sim28, sim29, sim30,
               sim31, sim32, sim33, sim34, sim35, sim36, sim37, sim38, sim39, sim40,
               sim41, sim42, sim43, sim44, sim45, sim46, sim47, sim48, sim49, sim50,
               sim51, sim52, sim53, sim54, sim55, sim56, sim57, sim58, sim59, sim60]
ensemble_means = [em01, em02, em03, em04, em05, em06, em07, em08, em09, em10,
                  em11, em12, em13, em14, em15, em16, em17, em18, em19, em20,
                  em21, em22, em23, em24, em25, em26]

x_ticks = [2050, 2060, 2070, 2080, 2090, 2100]
y_ticks = [0.0, 0.2, 0.4, 0.6, 0.8, 1.0]
y_tick_labels = ["0.0", "0.2", "0.4", "0.6", "0.8", "1.0"]

for i, s in enumerate(simulations + ensemble_means + [median_of_means]):
    if len(s) != len(years):
        raise ValueError(f"series {i} has {len(s)} values")

fig = go.Figure()
for s in simulations:
    fig.add_trace(go.Scatter(x=years, y=s, mode="lines",
                             line=dict(color="#dedede", width=1.1), hoverinfo="skip"))
for s in ensemble_means:
    fig.add_trace(go.Scatter(x=years, y=s, mode="lines",
                             line=dict(color="#8b8b8b", width=1.5), hoverinfo="skip"))
fig.add_trace(go.Scatter(x=years, y=median_of_means, mode="lines",
                         line=dict(color="#1c1c1c", width=4.5), hoverinfo="skip"))

# plot area in pixels: x 178..1023, y 57..481
L, R, T, B = 178, 1023, 57, 481
W, H = R - L, B - T
def px(x):
    return (x - L) / W
def py(y):
    return (B - y) / H

axis_font = dict(family="Roboto, Open Sans, sans-serif", size=14, color="#333333")
fig.update_layout(
    width=1168, height=626,
    margin=dict(l=L, r=1168 - R, t=T, b=626 - B, pad=0),
    paper_bgcolor="white", plot_bgcolor="white",
    showlegend=False,
    xaxis=dict(range=[2045, 2100], tickvals=x_ticks, ticks="outside", ticklen=4,
               tickcolor="black", showline=True, linecolor="black", linewidth=1,
               mirror=True, showgrid=False, zeroline=False, tickfont=axis_font),
    yaxis=dict(range=[0, 1], tickvals=y_ticks, ticktext=y_tick_labels, ticks="outside",
               ticklen=4, tickcolor="black", showline=True, linecolor="black",
               linewidth=1, mirror=True, showgrid=False, zeroline=False,
               tickfont=axis_font),
)

fig.add_shape(type="rect", xref="paper", yref="paper",
              x0=px(10), x1=px(1157), y0=py(620), y1=py(8),
              line=dict(color="#c4c4c4", width=1), fillcolor="rgba(0,0,0,0)", layer="below")

fig.add_annotation(text="SSP2-4.5", xref="paper", yref="paper", x=px(615), y=py(44),
                   xanchor="center", yanchor="middle", showarrow=False,
                   font=dict(family="Roboto, Open Sans, sans-serif", size=19, color="#222222"))
fig.add_annotation(text="Year (CE)", xref="paper", yref="paper", x=px(608), y=py(511),
                   xanchor="center", yanchor="middle", showarrow=False, font=axis_font)
fig.add_annotation(text="Probability of change in Temperature trend", xref="paper", yref="paper",
                   x=px(140), y=py(280), textangle=-90, xanchor="center", yanchor="middle",
                   showarrow=False, font=dict(family="Roboto, Open Sans, sans-serif", size=16, color="#333333"))

caption_lines = [
    "<b>Figure 5.</b> Probability that a slowdown is global warming has been detected for SSP2-4.5. Light grey lines are individual climate",
    "model simulations, darker grey are ensemble means for each climate model, and the thick black line is the median of all of the",
    "model ensemble means (such that each climate model gets one vote in the median).",
]
caption_y = [550, 572, 594]
for line_text, yy in zip(caption_lines, caption_y):
    fig.add_annotation(text=line_text, xref="paper", yref="paper", x=px(24), y=py(yy),
                       xanchor="left", yanchor="middle", showarrow=False, align="left",
                       font=dict(family="Liberation Serif, serif", size=21.5, color="#1a1a1a"))

fig.write_html("out.html", config={"displayModeBar": False},
               post_script="document.body.style.margin='0';")
